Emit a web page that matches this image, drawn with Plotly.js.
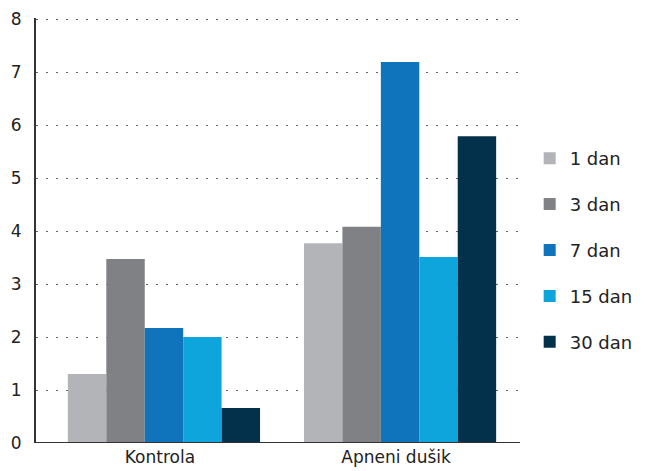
<!DOCTYPE html>
<html><head><meta charset="utf-8">
<script src="https://cdn.plot.ly/plotly-3.0.1.min.js"></script>
<style>html,body{margin:0;padding:0;background:#fff}</style>
</head><body>
<div id="chart" style="width:651px;height:471px"></div>
<script>
const categories = ["Kontrola", "Apneni dušik"];
const seriesNames = ["1 dan", "3 dan", "7 dan", "15 dan", "30 dan"];
const dan1 = [1.30, 3.77];
const dan3 = [3.47, 4.08];
const dan7 = [2.17, 7.19];
const dan15 = [2.00, 3.51];
const dan30 = [0.66, 5.79];
const yTicks = [0, 1, 2, 3, 4, 5, 6, 7, 8];

const values = [dan1, dan3, dan7, dan15, dan30];
const colors = ["#b3b4b8", "#808185", "#0f74bc", "#0ea5dd", "#03314b"];

const traces = values.map((v, i) => ({
  type: "bar", x: categories, y: v, name: seriesNames[i],
  marker: {color: colors[i], line: {width: 0}},
  legendgroup: "g" + i, hoverinfo: "none"
}));

const layout = {
  width: 651, height: 471,
  margin: {l: 36, r: 131, t: 18, b: 28, autoexpand: false},
  paper_bgcolor: "#fff", plot_bgcolor: "#fff",
  font: {family: "DejaVu Sans, sans-serif", color: "#222", size: 15},
  barmode: "group", bargap: 0.186, bargroupgap: 0,
  showlegend: true,
  legend: {x: 1.02, y: 0.713, xanchor: "left", yanchor: "top",
    traceorder: "grouped", tracegroupgap: 19.5, font: {size: 18, color: "#222"}},
  xaxis: {range: [-0.542, 1.508], showgrid: false, showline: false, zeroline: false,
    ticks: "", tickfont: {size: 17}, ticklabelstandoff: 2, ticklabelshift: -4, fixedrange: true},
  yaxis: {range: [0, 8.02], tickvals: yTicks, ticktext: yTicks.map(String),
    showgrid: true, gridcolor: "#666", griddash: "2px,8px", gridwidth: 1,
    zeroline: false, showline: true, linecolor: "#333", linewidth: 2,
    ticks: "", tickfont: {size: 17}, ticklabelstandoff: 9},
  shapes: [{type: "line", xref: "paper", yref: "y", x0: 0, x1: 1, y0: 0, y1: 0,
    line: {color: "#333", width: 2}}]
};

Plotly.newPlot("chart", traces, layout, {displayModeBar: false, staticPlot: true});
</script>
</body></html>
